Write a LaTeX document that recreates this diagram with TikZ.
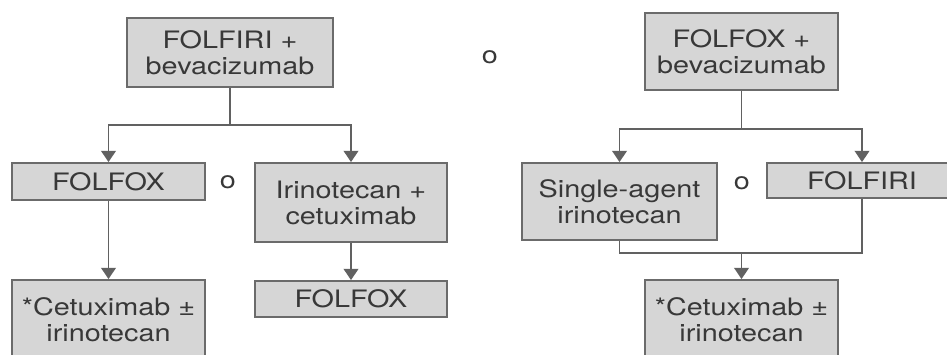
\documentclass[tikz,border=0pt]{standalone}
\usepackage{fontspec}
\setmainfont{TeX Gyre Heros}[FakeStretch=1.2]
\usetikzlibrary{arrows.meta}
\definecolor{boxfill}{gray}{0.84}
\definecolor{boxline}{gray}{0.42}
\definecolor{conline}{gray}{0.38}
\definecolor{txt}{gray}{0.22}
\begin{document}
\begin{tikzpicture}[x=0.75pt,y=-0.75pt,
  box/.style={draw=boxline,fill=boxfill,line width=1.3pt,inner sep=0pt,align=center,
    font=\fontsize{18}{19.5}\selectfont,text=txt},
  sep/.style={font=\fontsize{18}{19.5}\selectfont,text=txt,inner sep=0pt},
  con/.style={draw=conline,line width=1.3pt},
  arr/.style={con,-{Triangle[width=11pt,length=8.5pt]}}]
\useasboundingbox (0,0) rectangle (947,354);
\clip (0,0) rectangle (947,354);
\fill[white] (0,0) rectangle (947,354);
% left tree
\node[box,minimum width=206*0.75pt,minimum height=69*0.75pt] (A) at (230,52.5) {FOLFIRI +\\bevacizumab};
\node[box,minimum width=193*0.75pt,minimum height=37*0.75pt] (B) at (108.5,181.5) {FOLFOX};
\node[box,minimum width=192*0.75pt,minimum height=79*0.75pt] (C) at (351,202.5) {Irinotecan +\\cetuximab};
\node[box,minimum width=193*0.75pt,minimum height=80*0.75pt] (D) at (108.5,320) {*Cetuximab ±\\irinotecan};
\node[box,minimum width=192*0.75pt,minimum height=36*0.75pt] (E) at (351,299) {FOLFOX};
\node[sep] (o1) at (228,182) {o};
\node[sep] (o2) at (490,57) {o};
% right tree
\node[box,minimum width=193*0.75pt,minimum height=77*0.75pt] (F) at (741.5,51.5) {FOLFOX +\\bevacizumab};
\node[box,minimum width=195*0.75pt,minimum height=77*0.75pt] (G) at (619.5,201.5) {Single-agent\\irinotecan};
\node[box,minimum width=190*0.75pt,minimum height=35*0.75pt] (H) at (862,180.5) {FOLFIRI};
\node[box,minimum width=193*0.75pt,minimum height=80*0.75pt] (I) at (741.5,320) {*Cetuximab ±\\irinotecan};
\node[sep] (o3) at (742,183) {o};
% connectors left
\coordinate (a1) at (A.south |- 0,125);
\draw[con] (A.south) -- (a1);
\draw[arr] (a1) -| (B.north);
\draw[arr] (a1) -| (C.north);
\draw[arr] (B.south) -- (D.north);
\draw[arr] (C.south) -- (E.north);
% connectors right
\coordinate (f1) at (F.south |- 0,129);
\draw[con] (F.south) -- (f1);
\draw[arr] (f1) -| (G.north);
\draw[arr] (f1) -| (H.north);
\coordinate (g1) at (I.north |- 0,253);
\draw[con] (G.south) |- (g1);
\draw[con] (H.south) |- (g1);
\draw[arr] (g1) -- (I.north);
\end{tikzpicture}
\end{document}
